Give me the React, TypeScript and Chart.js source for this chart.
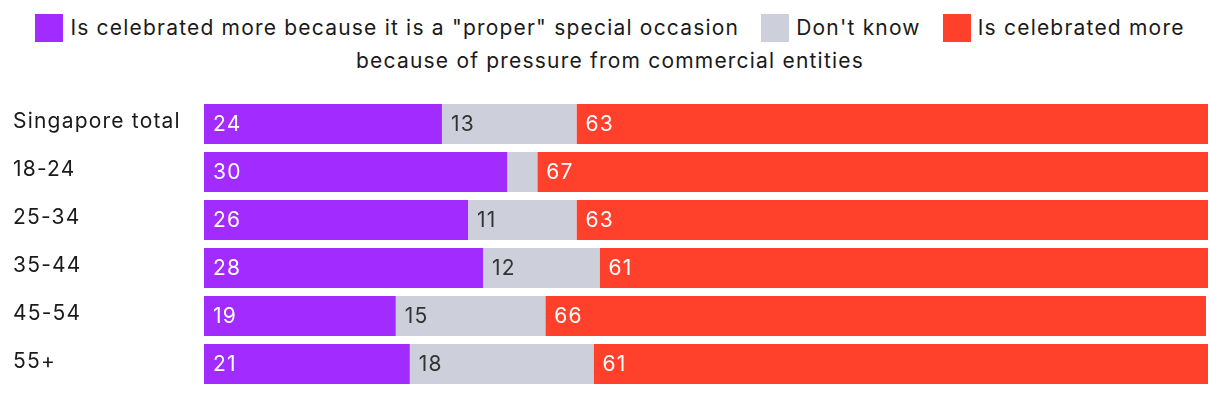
import React, { useEffect, useRef } from "react";
import { Chart, registerables } from "chart.js";

Chart.register(...registerables);

const categories = ["Singapore total", "18-24", "25-34", "35-44", "45-54", "55+"];
const seriesNames = [
  'Is celebrated more because it is a "proper" special occasion',
  "Don't know",
  "Is celebrated more because of pressure from commercial entities",
];
const properOccasion = [23.7, 30.2, 26.3, 27.8, 19.1, 20.5];
const dontKnow = [13.4, 3.0, 10.8, 11.6, 14.9, 18.3];
const commercialPressure = [62.9, 66.8, 62.9, 60.6, 65.8, 61.2];
const seriesColors = ["#A22CFF", "#CDD0DA", "#FF412C"];
const labelColors = ["#FFFFFF", "#333333", "#FFFFFF"];

const FONT = "Inter, 'Noto Sans', sans-serif";
const FONT_SIZE = 21;
const SPACING = "1.2px";

const spacingPlugin = {
  id: "spacing",
  beforeDraw(chart: any) {
    chart.ctx.letterSpacing = SPACING;
  },
};

const barLabelPlugin = {
  id: "barLabels",
  afterDatasetsDraw(chart: any) {
    const ctx = chart.ctx;
    ctx.save();
    ctx.letterSpacing = SPACING;
    ctx.font = `${FONT_SIZE}px ${FONT}`;
    ctx.textAlign = "left";
    ctx.textBaseline = "middle";
    chart.data.datasets.forEach((ds: any, di: number) => {
      const meta = chart.getDatasetMeta(di);
      meta.data.forEach((bar: any, i: number) => {
        const v = ds.data[i];
        if (v < 5) return;
        const left = Math.min(bar.base, bar.x);
        ctx.fillStyle = labelColors[di];
        ctx.fillText(String(Math.round(v)), left + 9, bar.y + 1);
      });
    });
    ctx.restore();
  },
};

export default function App() {
  const ref = useRef<HTMLCanvasElement | null>(null);
  useEffect(() => {
    if (!ref.current) return;
    const values = [properOccasion, dontKnow, commercialPressure];
    const chart = new Chart(ref.current, {
      type: "bar",
      data: {
        labels: categories,
        datasets: seriesNames.map((name, i) => ({
          label: name,
          data: values[i],
          backgroundColor: seriesColors[i],
          borderWidth: 0,
          barPercentage: 40 / 48,
          categoryPercentage: 1,
        })),
      },
      options: {
        indexAxis: "y",
        animation: false,
        responsive: false,
        maintainAspectRatio: false,
        layout: { padding: { top: 23, bottom: 4, left: 5, right: 4 } },
        plugins: {
          legend: { display: false },
          tooltip: { enabled: false },
        },
        scales: {
          x: { stacked: true, min: 0, max: 100, display: false },
          y: {
            stacked: true,
            grid: { display: false, drawTicks: false },
            border: { display: false },
            ticks: {
              crossAlign: "far",
              color: "#1A1A1A",
              font: { family: FONT, size: FONT_SIZE },
              labelOffset: -2,
              padding: 0,
            },
            afterFit(scale: any) {
              scale.width = 191;
              scale.paddingTop = 0;
              scale.paddingBottom = 0;
            },
          },
        },
      },
      plugins: [spacingPlugin, barLabelPlugin],
    });
    return () => chart.destroy();
  }, []);

  return (
    <div style={{ width: 1204, fontFamily: FONT }}>
      <div
        style={{
          paddingTop: 3,
          height: 66,
          fontSize: FONT_SIZE,
          lineHeight: "33px",
          letterSpacing: SPACING,
          textAlign: "center",
          color: "#1A1A1A",
        }}
      >
        {seriesNames.map((name, i) => (
          <React.Fragment key={i}>
            <span
              style={{
                display: "inline-block",
                width: 28,
                height: 28,
                background: seriesColors[i],
                verticalAlign: "-7px",
                marginLeft: i === 0 ? 0 : 22,
                marginRight: 7,
              }}
            />
            {name}
          </React.Fragment>
        ))}
      </div>
      <canvas ref={ref} width={1204} height={315} style={{ display: "block" }} />
    </div>
  );
}
